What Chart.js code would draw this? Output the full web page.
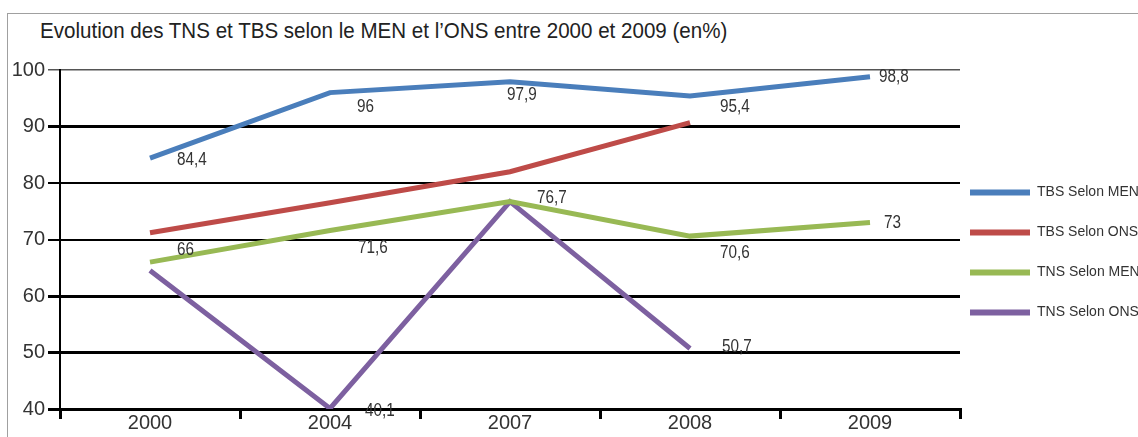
<!DOCTYPE html>
<html>
<head>
<meta charset="utf-8">
<script src="https://cdn.jsdelivr.net/npm/chart.js@4/dist/chart.umd.min.js"></script>
<style>
  body { margin: 0; background: #fff; }
  #wrap { position: relative; width: 1138px; height: 437px; overflow: hidden; }
  #frame { position: absolute; left: 7px; top: 13px; width: 1140px; height: 440px; border: 1px solid #a0a0a0; }
  #title { position: absolute; left: 40px; top: 18px; font: 22px "Liberation Sans", Arial, sans-serif; color: #222;
           white-space: nowrap; transform-origin: 0 0; }
  canvas { position: absolute; left: 0; top: 0; }
</style>
</head>
<body>
<div id="wrap">
  <div id="frame"></div>
  <div id="title">Evolution des TNS et TBS selon le MEN et l’ONS entre 2000 et 2009 (en%)</div>
  <canvas id="chart" width="1138" height="437"></canvas>
</div>
<script>
// values
const years = ['2000', '2004', '2007', '2008', '2009'];
const tbsMen = [84.4, 96, 97.9, 95.4, 98.8];
const tbsOns = [71.2, 76.5, 82, 90.7, null];
const tnsMen = [66, 71.6, 76.7, 70.6, 73];
const tnsOns = [64.5, 40.1, 76.7, 50.7, null];
const seriesNames = ['TBS Selon MEN', 'TBS Selon ONS', 'TNS Selon MEN', 'TNS Selon ONS'];
const yMin = 40, yMax = 100, yStep = 10;

const FONT = '"Liberation Sans", Arial, sans-serif';

// the original uses a narrow font, squeeze the title to the same width
const titleEl = document.getElementById('title');
titleEl.style.transform = 'scaleX(' + (687 / titleEl.offsetWidth) + ')';

// value labels, drawn next to each point (offsets in px)
const valueLabels = {
  id: 'valueLabels',
  afterDatasetsDraw(chart) {
    const ctx = chart.ctx;
    chart.data.datasets.forEach((ds, i) => {
      if (!ds.labelDx) return;
      chart.getDatasetMeta(i).data.forEach((pt, j) => {
        const v = ds.data[j];
        if (v == null || ds.labelDx[j] == null) return;
        ctx.save();
        ctx.font = '18px ' + FONT;
        ctx.fillStyle = '#333';
        ctx.textAlign = 'left';
        ctx.textBaseline = 'middle';
        ctx.translate(pt.x + ds.labelDx[j], pt.y + ds.labelDy[j]);
        ctx.scale(0.85, 1);
        ctx.fillText(String(v).replace('.', ','), 0, 0);
        ctx.restore();
      });
    });
  }
};

// keep the legend narrow so the plot reaches x=960, and put it 10px right of the plot
const legendPlacement = {
  id: 'legendPlacement',
  beforeInit(chart) {
    const fit = chart.legend.fit;
    chart.legend.fit = function () {
      fit.call(this);
      this.width = 178;
    };
  },
  afterLayout(chart) {
    const lg = chart.legend;
    const pad = lg.options.labels.padding;
    lg.left = chart.chartArea.right + 10 - pad;
    lg.top -= 2;
  }
};

new Chart(document.getElementById('chart'), {
  type: 'line',
  data: {
    labels: years,
    datasets: [
      { label: seriesNames[0], data: tbsMen, borderColor: '#4a7ebb', backgroundColor: '#4a7ebb',
        labelDx: [27, 27, -3, 30, 9], labelDy: [2, 14, 13, 11, 0] },
      { label: seriesNames[1], data: tbsOns, borderColor: '#be4b48', backgroundColor: '#be4b48' },
      { label: seriesNames[2], data: tnsMen, borderColor: '#98b954', backgroundColor: '#98b954',
        labelDx: [27, 28, 27, 30, 14], labelDy: [-12, 18, -4, 17, 0] },
      { label: seriesNames[3], data: tnsOns, borderColor: '#7d60a0', backgroundColor: '#7d60a0',
        labelDx: [null, 35, null, 32, null], labelDy: [0, 3, 0, -2, 0] }
    ]
  },
  options: {
    responsive: false,
    animation: false,
    devicePixelRatio: 1,
    layout: { padding: { top: 70, right: 0, bottom: 0, left: 0 } },
    elements: {
      line: { borderWidth: 5, tension: 0, borderCapStyle: 'butt' },
      point: { radius: 0, hoverRadius: 0 }
    },
    scales: {
      x: {
        offset: true,
        grid: { offset: true, drawOnChartArea: false, color: '#000', lineWidth: 3, tickLength: 10 },
        border: { display: true, color: '#000', width: 3 },
        ticks: { color: '#333', font: { family: FONT, size: 20 }, padding: -8 },
        afterFit(s) { s.height = 28; }
      },
      y: {
        min: yMin,
        max: yMax,
        ticks: { stepSize: yStep, color: '#333', font: { family: FONT, size: 20 }, padding: 3 },
        grid: {
          color: c => (c.tick && c.tick.value === yMax) ? '#555' : '#000',
          lineWidth: c => {
            const v = c.tick ? c.tick.value : 0;
            if (v === yMax) return 1.5;
            if (v === 80 || v === 70) return 2;
            return 3;
          },
          tickLength: 12
        },
        border: { display: true, color: '#000', width: 2 },
        afterFit(s) { s.width = 60; }
      }
    },
    plugins: {
      title: { display: false },
      tooltip: { enabled: false },
      legend: {
        position: 'right',
        align: 'center',
        labels: {
          boxWidth: 60,
          boxHeight: 6,
          padding: 26,
          color: '#333',
          font: { family: FONT, size: 14 },
          generateLabels(chart) {
            const items = Chart.defaults.plugins.legend.labels.generateLabels(chart);
            return items.map(it => Object.assign(it, { lineWidth: 0 }));
          }
        }
      }
    }
  },
  plugins: [valueLabels, legendPlacement]
});
</script>
</body>
</html>
